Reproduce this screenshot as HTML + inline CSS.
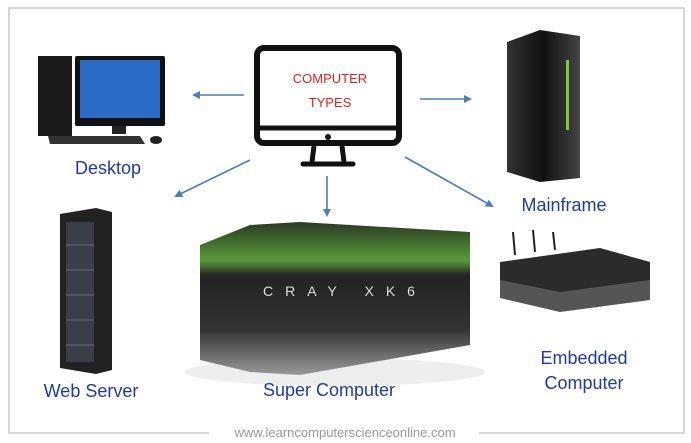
<!DOCTYPE html>
<html><head><meta charset="utf-8"><style>
html,body{margin:0;padding:0;background:#fff;}
svg{display:block;}
text{font-family:"Liberation Sans","DejaVu Sans",sans-serif;}
</style></head><body>
<svg width="691" height="443" viewBox="0 0 691 443" xmlns="http://www.w3.org/2000/svg">
<defs>
<marker id="ah" markerWidth="8" markerHeight="8" refX="6" refY="4" orient="auto" markerUnits="userSpaceOnUse">
<path d="M0,0 L8,4 L0,8 Z" fill="#4a7ebb"/></marker>
<linearGradient id="mf" x1="0" x2="1"><stop offset="0" stop-color="#333"/><stop offset="0.5" stop-color="#111"/><stop offset="1" stop-color="#444"/></linearGradient>
<linearGradient id="sc" x1="0" y1="0" x2="0" y2="1"><stop offset="0" stop-color="#2a3a22"/><stop offset="0.25" stop-color="#5a9a3a"/><stop offset="0.35" stop-color="#222"/><stop offset="0.7" stop-color="#333"/><stop offset="1" stop-color="#999"/></linearGradient>
</defs>
<rect x="0" y="0" width="691" height="443" fill="#fff"/>
<path d="M209,433 H9 V8 H684 V433 H479" fill="none" stroke="#c8c8c8" stroke-width="1.5"/>
<text x="345" y="437" font-size="13" fill="#999" text-anchor="middle">www.learncomputerscienceonline.com</text>

<!-- center monitor -->
<rect x="257" y="48" width="142" height="95" rx="7" fill="none" stroke="#111" stroke-width="6"/>
<line x1="257" y1="128" x2="399" y2="128" stroke="#111" stroke-width="5"/>
<circle cx="328" cy="137" r="3" fill="#111"/>
<path d="M314,146 L312,162 M342,146 L344,162" stroke="#111" stroke-width="5"/>
<line x1="303" y1="164" x2="353" y2="164" stroke="#111" stroke-width="5" stroke-linecap="round"/>
<text x="330" y="83" font-size="13" fill="#e0201c" text-anchor="middle">COMPUTER</text>
<text x="330" y="107" font-size="13" fill="#e0201c" text-anchor="middle">TYPES</text>

<!-- arrows -->
<g stroke="#4a7ebb" stroke-width="1.6" marker-end="url(#ah)">
<line x1="244" y1="95" x2="194" y2="95"/>
<line x1="420" y1="99" x2="470" y2="99"/>
<line x1="250" y1="160" x2="176" y2="196"/>
<line x1="327" y1="176" x2="327" y2="215"/>
<line x1="405" y1="157" x2="492" y2="206"/>
</g>

<!-- desktop -->
<rect x="38" y="56" width="34" height="80" fill="#1a1a1a"/>
<rect x="75" y="56" width="90" height="70" rx="2" fill="#111"/>
<rect x="80" y="60" width="80" height="58" fill="#2a6cc8"/>
<rect x="112" y="126" width="14" height="8" fill="#222"/>
<path d="M48,136 L140,136 L145,144 L50,144 Z" fill="#333"/>
<ellipse cx="156" cy="140" rx="6" ry="4" fill="#222"/>
<text x="108" y="174" font-size="18" fill="#1f3aa8" text-anchor="middle">Desktop</text>

<!-- mainframe -->
<path d="M507,42 L540,30 L580,36 L580,178 L540,182 L507,172 Z" fill="url(#mf)"/>
<rect x="566" y="60" width="3" height="70" fill="#7ec83a"/>
<text x="564" y="211" font-size="18" fill="#1f3aa8" text-anchor="middle">Mainframe</text>

<!-- web server -->
<path d="M60,214 L96,208 L112,212 L112,370 L96,374 L60,368 Z" fill="#222"/>
<rect x="66" y="222" width="28" height="140" fill="#3a3f48"/>
<g stroke="#667" stroke-width="1"><line x1="66" y1="245" x2="94" y2="245"/><line x1="66" y1="270" x2="94" y2="270"/><line x1="66" y1="295" x2="94" y2="295"/><line x1="66" y1="320" x2="94" y2="320"/><line x1="66" y1="345" x2="94" y2="345"/></g>
<text x="91" y="397" font-size="18" fill="#1f3aa8" text-anchor="middle">Web Server</text>

<!-- super computer -->
<ellipse cx="335" cy="372" rx="150" ry="14" fill="#eee"/>
<path d="M200,245 L250,225 L300,222 L470,232 L470,345 L300,375 L250,372 L200,360 Z" fill="url(#sc)"/>
<text x="345" y="296" font-size="14" fill="#ddd" text-anchor="middle" letter-spacing="12">CRAY XK6</text>
<text x="329" y="396" font-size="18" fill="#1f3aa8" text-anchor="middle">Super Computer</text>

<!-- embedded -->
<g stroke="#222" stroke-width="2"><line x1="515" y1="255" x2="513" y2="232"/><line x1="535" y1="252" x2="533" y2="230"/><line x1="555" y1="250" x2="553" y2="232"/></g>
<path d="M500,262 L600,248 L650,262 L650,292 L560,308 L500,292 Z" fill="#2b2b2b"/>
<path d="M500,280 L560,292 L650,280 L650,300 L560,312 L500,298 Z" fill="#555"/>
<text x="584" y="364" font-size="18" fill="#1f3aa8" text-anchor="middle">Embedded</text>
<text x="584" y="389" font-size="18" fill="#1f3aa8" text-anchor="middle">Computer</text>
</svg>
</body></html>
